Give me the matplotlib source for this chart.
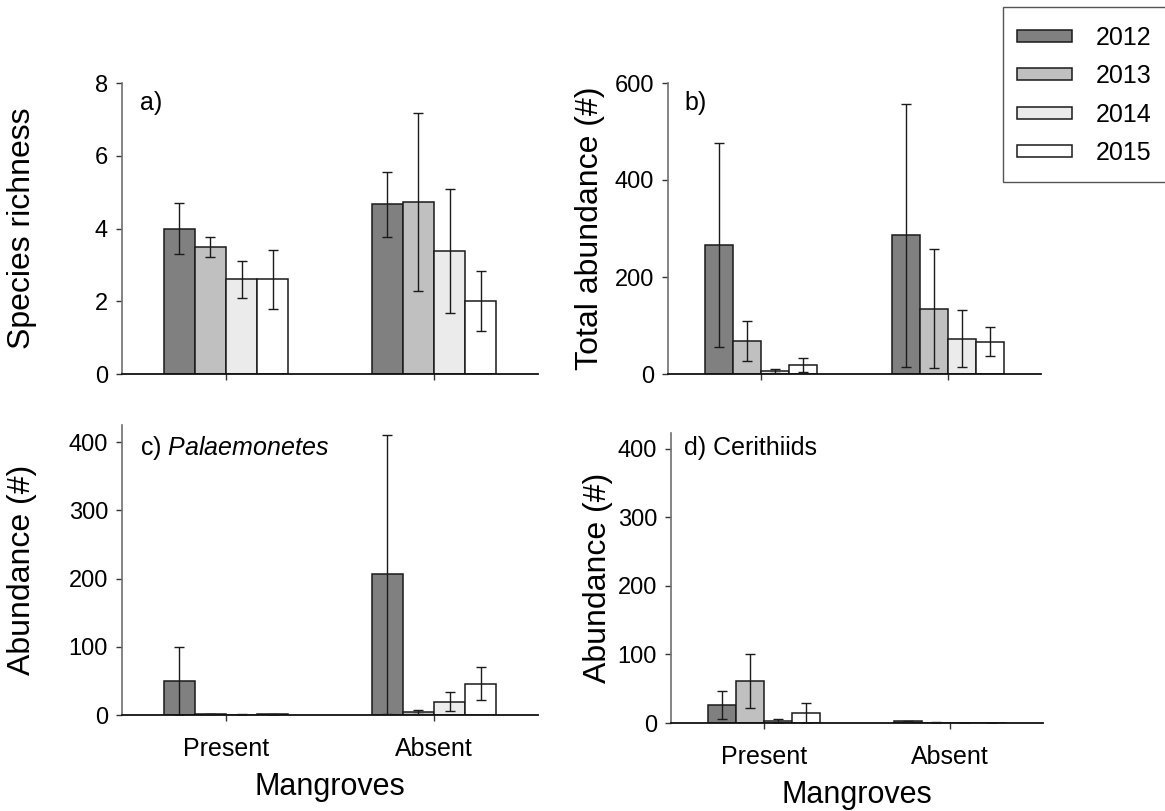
import matplotlib
matplotlib.use('Agg')
import matplotlib.pyplot as plt
import numpy as np
from matplotlib.patches import Rectangle

plt.rcParams['font.family'] = ['Liberation Sans', 'DejaVu Sans']
plt.rcParams['mathtext.fontset'] = 'custom'
plt.rcParams['mathtext.it'] = 'Liberation Sans:italic'

years = ['2012', '2013', '2014', '2015']
sites = ['Present', 'Absent']
colors = ['#808080', '#c0c0c0', '#ebebeb', '#ffffff']

# means and errors per year, [Present, Absent]
richness = [[4.0, 4.66], [3.5, 4.73], [2.6, 3.39], [2.6, 2.0]]
richness_err = [[0.7, 0.88], [0.28, 2.44], [0.5, 1.7], [0.8, 0.83]]

total = [[266, 286], [68, 135], [7, 73], [19, 67]]
total_err = [[211, 271], [41, 122], [4, 58], [15, 30]]

palaemonetes = [[50, 206], [1.5, 4], [0.5, 19.5], [1.0, 46]]
palaemonetes_err = [[50, 204], [0.5, 3], [0.3, 14], [0.5, 24]]

cerithiids = [[26, 2.5], [61.5, 0.6], [3, 0.3], [14.7, 0.0]]
cerithiids_err = [[20.5, 1.0], [39.5, 0.3], [3, 0.2], [14.7, 0.0]]

W, H = 1165, 811
fig = plt.figure(figsize=(W / 100, H / 100), dpi=100)


def px_axes(left, right, bottom, top):
    return fig.add_axes([left / W, 1 - bottom / H, (right - left) / W, (bottom - top) / H])


def draw(ax, means, errs, ymax, yticks, label, letter, ylabel_x, show_x):
    x = np.arange(len(sites))
    width = 0.15
    bars = []
    for i, (m, e) in enumerate(zip(means, errs)):
        pos = x + (i - 1.5) * width
        b = ax.bar(pos, m, width, color=colors[i], edgecolor='#1a1a1a', linewidth=1.1,
                   label=years[i], zorder=2)
        ax.errorbar(pos, m, yerr=e, fmt='none', ecolor='#1a1a1a', elinewidth=1.0,
                    capsize=3.8, capthick=1.0, zorder=3)
        bars.append(b)
    ax.set_xlim(-0.5, 1.5)
    ax.set_ylim(0, ymax)
    ax.set_yticks(yticks)
    ax.set_xticks(x)
    if show_x:
        ax.set_xticklabels(sites, fontsize=18)
        ax.set_xlabel('Mangroves', fontsize=22, labelpad=8)
    else:
        ax.set_xticklabels([])
    ax.tick_params(axis='y', labelsize=17, length=4, width=1, pad=6, color='#333333')
    ax.tick_params(axis='x', length=4, width=1, pad=12, color='#333333')
    for s in ['top', 'right']:
        ax.spines[s].set_visible(False)
    ax.spines['left'].set_color('#707070')
    ax.spines['left'].set_linewidth(1.2)
    ax.spines['bottom'].set_color('#111111')
    ax.spines['bottom'].set_linewidth(1.3)
    ax.set_ylabel(label, fontsize=23)
    ax.yaxis.set_label_coords(ylabel_x, 0.5)
    ax.text(letter[1], letter[2], letter[0], transform=ax.transAxes, fontsize=18,
            ha='left', va='center')
    return bars


ax_a = px_axes(122, 538, 374, 83)
ax_b = px_axes(668, 1041, 374, 83)
ax_c = px_axes(122, 538, 715, 425)
ax_d = px_axes(671, 1043, 723, 433)

bars = draw(ax_a, richness, richness_err, 8, [0, 2, 4, 6, 8], 'Species richness',
            ('a)', 0.043, 0.93), -0.205, False)
draw(ax_b, total, total_err, 600, [0, 200, 400, 600], 'Total abundance (#)',
     ('b)', 0.043, 0.93), -0.17, False)
draw(ax_c, palaemonetes, palaemonetes_err, 425, [0, 100, 200, 300, 400], 'Abundance (#)',
     (r'c) $\it{Palaemonetes}$', 0.043, 0.92), -0.205, True)
draw(ax_d, cerithiids, cerithiids_err, 423, [0, 100, 200, 300, 400], 'Abundance (#)',
     ('d) Cerithiids', 0.035, 0.948), -0.155, True)

fig.legend(handles=bars, labels=years, loc='upper left',
           bbox_to_anchor=(1003 / W, 1 - 12 / H), borderaxespad=0, frameon=False,
           fontsize=18, handlelength=2.2, handleheight=0.35, handletextpad=0.95,
           labelspacing=0.58, borderpad=0.55)
fig.add_artist(Rectangle((1003 / W, 1 - 182 / H), 0.2, 175 / H, transform=fig.transFigure,
                         fill=False, edgecolor='#555555', linewidth=1.0))

fig.savefig('out.png', dpi=100)
